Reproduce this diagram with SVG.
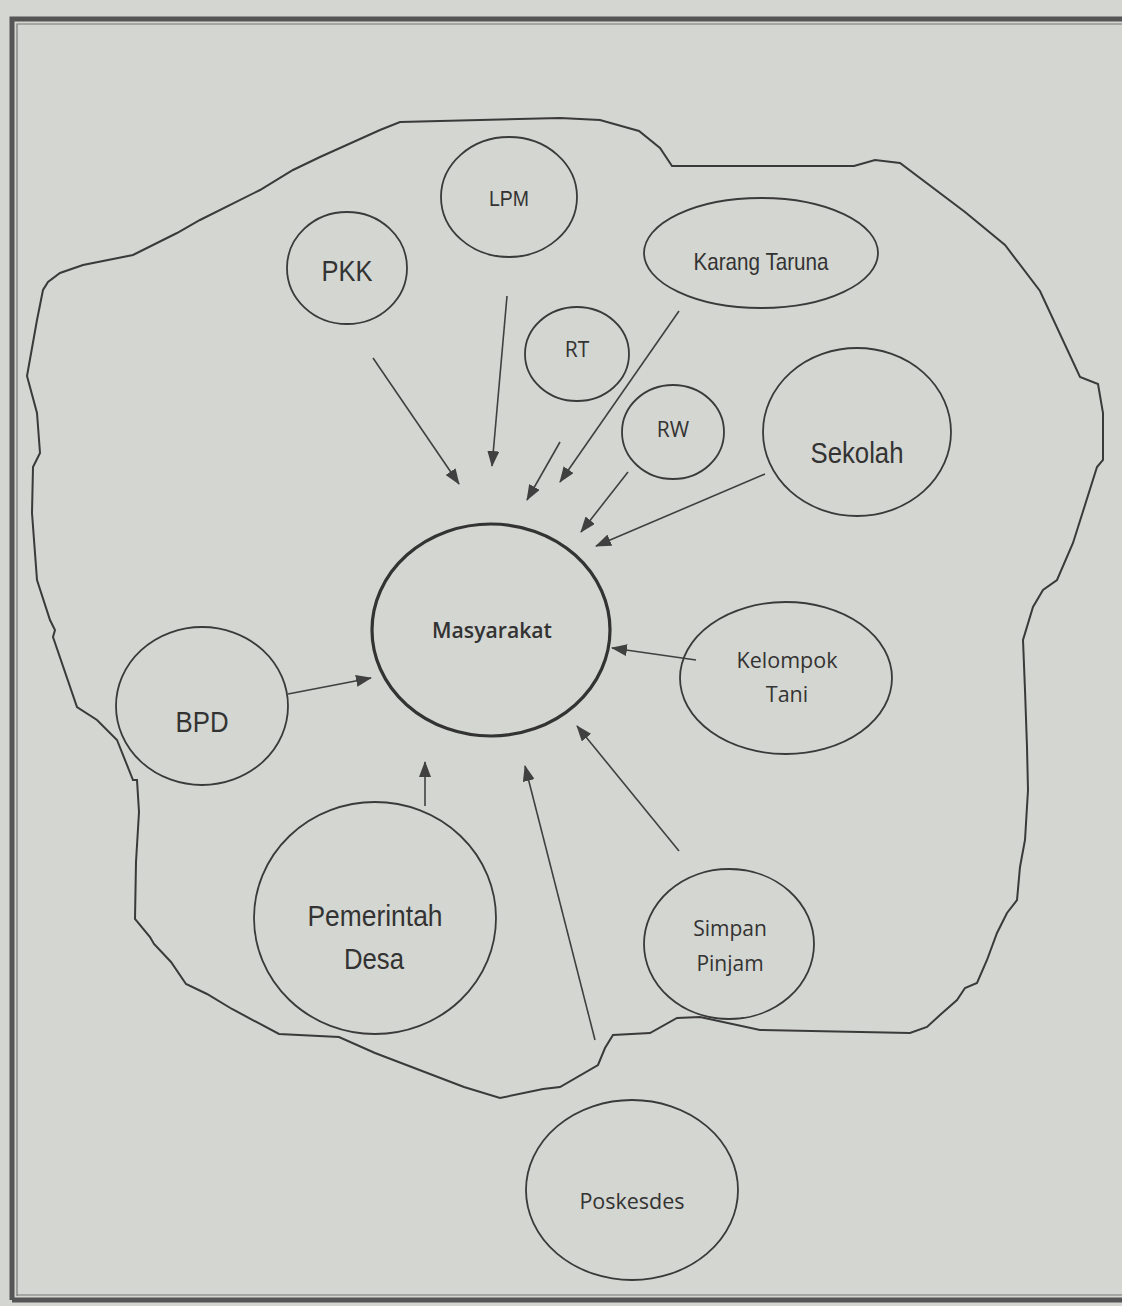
<svg xmlns="http://www.w3.org/2000/svg" width="1122" height="1306" viewBox="0 0 1122 1306">
<defs>
<style>
.node{fill:none;stroke:#3a3a3a;stroke-width:1.8}
.main{fill:none;stroke:#333;stroke-width:3.2}
.lbl{font-family:"Liberation Sans",Arial,sans-serif;fill:#333;text-anchor:middle}
.lbl2{font-family:"Open Sans","Noto Sans",sans-serif;fill:#333;text-anchor:middle}
.conn{stroke:#404040;stroke-width:1.6;fill:none;marker-end:url(#ah)}
.blob{fill:none;stroke:#3a3a3a;stroke-width:2}
</style>
<marker id="ah" viewBox="0 0 16 12" refX="15" refY="6" markerWidth="16" markerHeight="12" markerUnits="userSpaceOnUse" orient="auto">
<path d="M0,0 L16,6 L0,12 z" fill="#404040"/>
</marker>
</defs>
<rect x="0" y="0" width="1122" height="1306" fill="#d4d6d1"/>
<g id="frame">
<path d="M12,1300 L12,19 L1122,19" fill="none" stroke="#555" stroke-width="5"/>
<path d="M17,1296 L17,24 L1122,24" fill="none" stroke="#777" stroke-width="1.2"/>
<path d="M12,1300 L1122,1300" fill="none" stroke="#555" stroke-width="5"/>
<path d="M17,1295 L1122,1295" fill="none" stroke="#777" stroke-width="1.2"/>
</g>
<g id="boundary">
<path class="blob" d="M400,122 L560,118 L600,120 L639,131 L660,148 L672,166 L854,166 L875,160 L900,163 L965,212 L1005,245 L1040,291 L1080,377 L1098,384 L1103,413 L1103,460 L1097,467 L1073,543 L1057,580 L1043,590 L1033,607 L1023,640 L1025,690 L1027,747 L1028,790 L1025,840 L1020,867 L1017,900 L1007,913 L997,933 L987,960 L977,983 L965,988 L957,1000 L940,1015 L927,1027 L910,1033 L760,1030 L700,1017 L677,1018 L650,1033 L613,1035 L605,1048 L598,1065 L560,1087 L543,1089 L500,1098 L464,1087 L375,1053 L339,1037 L279,1034 L232,1009 L207,994 L186,984 L171,962 L154,944 L150,937 L135,919 L136,862 L139,812 L137,780 L133,780 L117,740 L97,720 L77,707 L53,637 L55,630 L50,620 L37,580 L32,513 L33,467 L40,453 L37,413 L27,376 L37,320 L43,290 L48,282 L60,273 L83,265 L133,255 L177,233 L200,220 L260,190 L293,170 L320,157 L380,130 Z"/>
</g>
<g id="connectors">
<line class="conn" x1="373" y1="358" x2="459" y2="484"/>
<line class="conn" x1="507" y1="296" x2="492" y2="466"/>
<line class="conn" x1="560" y1="442" x2="527" y2="500"/>
<line class="conn" x1="679" y1="311" x2="560" y2="482"/>
<line class="conn" x1="628" y1="472" x2="581" y2="532"/>
<line class="conn" x1="765" y1="474" x2="596" y2="546"/>
<line class="conn" x1="696" y1="660" x2="612" y2="648"/>
<line class="conn" x1="288" y1="694" x2="371" y2="678"/>
<line class="conn" x1="425" y1="806" x2="425" y2="762"/>
<line class="conn" x1="595" y1="1040" x2="525" y2="766"/>
<line class="conn" x1="679" y1="851" x2="577" y2="726"/>
</g>
<g id="lpm"><ellipse class="node" cx="509" cy="197" rx="68" ry="60"/><text class="lbl" x="509" y="206" font-size="22" textLength="40" lengthAdjust="spacingAndGlyphs">LPM</text></g>
<g id="pkk"><ellipse class="node" cx="347" cy="268" rx="60" ry="56"/><text class="lbl" x="347" y="281" font-size="30" textLength="51" lengthAdjust="spacingAndGlyphs">PKK</text></g>
<g id="karang-taruna"><ellipse class="node" cx="761" cy="253" rx="117" ry="55"/><text class="lbl" x="761" y="270" font-size="24" textLength="135" lengthAdjust="spacingAndGlyphs">Karang Taruna</text></g>
<g id="rt"><ellipse class="node" cx="577" cy="354" rx="52" ry="47"/><text class="lbl2" x="577" y="357" font-size="21">RT</text></g>
<g id="rw"><ellipse class="node" cx="673" cy="432" rx="51" ry="47"/><text class="lbl2" x="673" y="437" font-size="21">RW</text></g>
<g id="sekolah"><ellipse class="node" cx="857" cy="432" rx="94" ry="84"/><text class="lbl" x="857" y="463" font-size="30" textLength="93" lengthAdjust="spacingAndGlyphs">Sekolah</text></g>
<g id="masyarakat"><ellipse class="main" cx="491" cy="630" rx="119" ry="106"/><text class="lbl2" x="492" y="638" font-size="21" font-weight="600" textLength="120" lengthAdjust="spacingAndGlyphs">Masyarakat</text></g>
<g id="kelompok-tani"><ellipse class="node" cx="786" cy="678" rx="106" ry="76"/><text class="lbl2" x="787" y="668" font-size="21.5">Kelompok</text><text class="lbl2" x="787" y="702" font-size="21.5">Tani</text></g>
<g id="bpd"><ellipse class="node" cx="202" cy="706" rx="86" ry="79"/><text class="lbl" x="202" y="732" font-size="29" textLength="53" lengthAdjust="spacingAndGlyphs">BPD</text></g>
<g id="pemerintah-desa"><ellipse class="node" cx="375" cy="918" rx="121" ry="116"/><text class="lbl" x="375" y="926" font-size="30" textLength="135" lengthAdjust="spacingAndGlyphs">Pemerintah</text><text class="lbl" x="374" y="969" font-size="30" textLength="60" lengthAdjust="spacingAndGlyphs">Desa</text></g>
<g id="simpan-pinjam"><ellipse class="node" cx="729" cy="944" rx="85" ry="75"/><text class="lbl2" x="730" y="936" font-size="21">Simpan</text><text class="lbl2" x="730" y="971" font-size="21">Pinjam</text></g>
<g id="poskesdes"><ellipse class="node" cx="632" cy="1190" rx="106" ry="90"/><text class="lbl2" x="632" y="1209" font-size="21.5">Poskesdes</text></g>
</svg>
